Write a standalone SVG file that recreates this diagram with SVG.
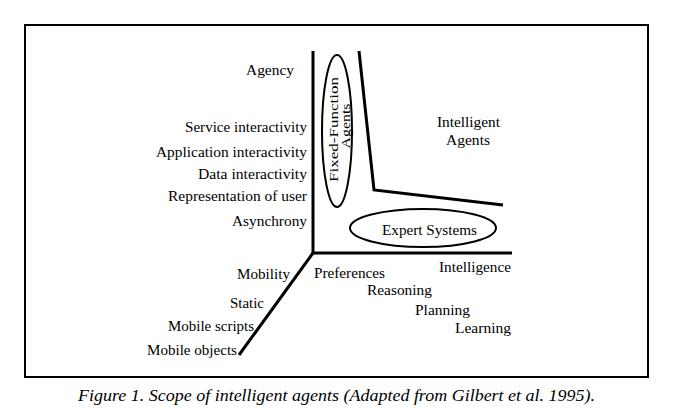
<svg xmlns="http://www.w3.org/2000/svg" width="673" height="419" viewBox="0 0 673 419">
<style>
text{font-family:"Liberation Serif","Times New Roman",serif;font-size:14px;fill:#000}
.m{text-anchor:middle}
.sm{font-size:12.5px}
.ax{stroke:#000;stroke-width:3;fill:none}
.el{stroke:#000;stroke-width:2;fill:none}
.cap{font-style:italic;font-size:16px}
</style>
<rect x="25" y="25" width="623" height="352" fill="#fff" stroke="#000" stroke-width="2"/>
<g id="connectors">
<path class="ax" d="M313,51 V253 H512"/>
<path class="ax" d="M313,253 L239,355"/>
<path class="ax" d="M359,51 L374,190 L503,205"/>
</g>
<g id="fixed-function-agents">
<ellipse class="el" cx="337" cy="131" rx="15" ry="76"/>
<text class="m sm" transform="translate(338,129.5) rotate(-90)" textLength="105" lengthAdjust="spacingAndGlyphs">Fixed-Function</text>
<text class="m sm" transform="translate(350,126) rotate(-90)" textLength="45" lengthAdjust="spacingAndGlyphs">Agents</text>
</g>
<g id="expert-systems">
<ellipse class="el" cx="423" cy="228" rx="73" ry="19"/>
<text x="382" y="235" textLength="95" lengthAdjust="spacingAndGlyphs">Expert Systems</text>
</g>
<g id="intelligent-agents">
<text x="437" y="127" textLength="63" lengthAdjust="spacingAndGlyphs">Intelligent</text>
<text x="446" y="145" textLength="44" lengthAdjust="spacingAndGlyphs">Agents</text>
</g>
<g id="agency-axis">
<text x="246" y="75" textLength="48" lengthAdjust="spacingAndGlyphs">Agency</text>
<text x="185" y="132" textLength="122" lengthAdjust="spacingAndGlyphs">Service interactivity</text>
<text x="156" y="157" textLength="151" lengthAdjust="spacingAndGlyphs">Application interactivity</text>
<text x="198" y="179" textLength="109" lengthAdjust="spacingAndGlyphs">Data interactivity</text>
<text x="168" y="201" textLength="139" lengthAdjust="spacingAndGlyphs">Representation of user</text>
<text x="232" y="226" textLength="75" lengthAdjust="spacingAndGlyphs">Asynchrony</text>
</g>
<g id="mobility-axis">
<text x="237" y="279" textLength="53" lengthAdjust="spacingAndGlyphs">Mobility</text>
<text x="230" y="308" textLength="34" lengthAdjust="spacingAndGlyphs">Static</text>
<text x="168" y="331" textLength="86" lengthAdjust="spacingAndGlyphs">Mobile scripts</text>
<text x="147" y="355" textLength="90" lengthAdjust="spacingAndGlyphs">Mobile objects</text>
</g>
<g id="intelligence-axis">
<text x="439" y="272" textLength="72" lengthAdjust="spacingAndGlyphs">Intelligence</text>
<text x="314" y="278" textLength="71" lengthAdjust="spacingAndGlyphs">Preferences</text>
<text x="367" y="295" textLength="65" lengthAdjust="spacingAndGlyphs">Reasoning</text>
<text x="415" y="315" textLength="55" lengthAdjust="spacingAndGlyphs">Planning</text>
<text x="455" y="333" textLength="56" lengthAdjust="spacingAndGlyphs">Learning</text>
</g>
<text class="cap" x="78" y="401" textLength="517" lengthAdjust="spacingAndGlyphs">Figure 1. Scope of intelligent agents (Adapted from Gilbert et al. 1995).</text>
</svg>
